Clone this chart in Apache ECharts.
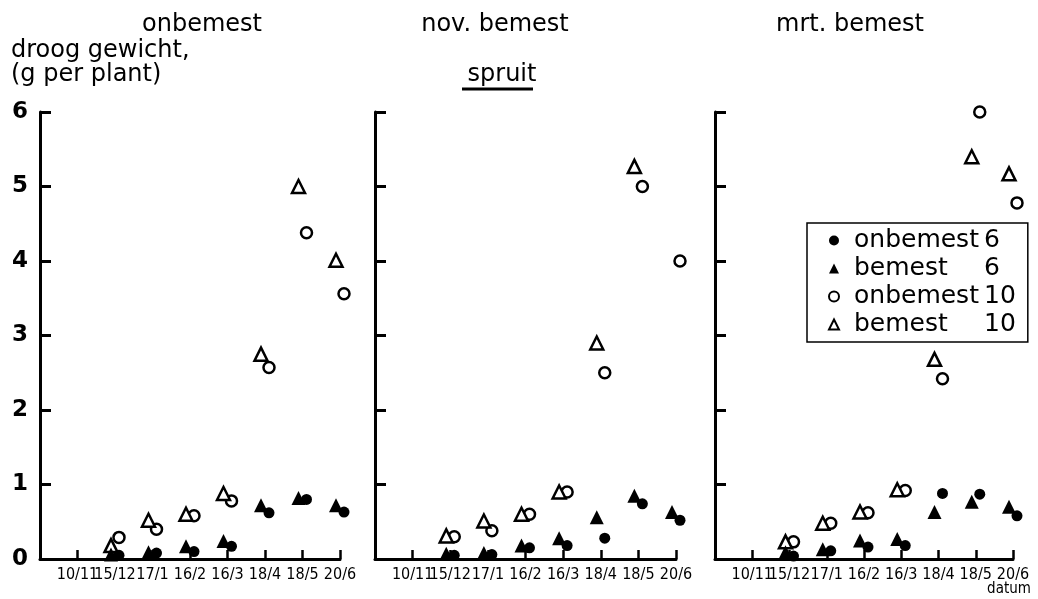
<!DOCTYPE html>
<html>
<head>
<meta charset="utf-8">
<script src="https://cdn.jsdelivr.net/npm/echarts@6/dist/echarts.min.js"></script>
<style>
  html, body { margin: 0; padding: 0; background: #fff; }
  #chart { width: 1038px; height: 599px; }
</style>
</head>
<body>
<div id="chart"></div>
<script>
// sampling dates (first one has no measurement)
const dates = ['10/11', '15/12', '17/1', '16/2', '16/3', '18/4', '18/5', '20/6'];
const yTicks = [0, 1, 2, 3, 4, 5, 6];
const panels = ['onbemest', 'nov. bemest', 'mrt. bemest'];

// droog gewicht spruit, g per plant
const onbemest6 = [
  [null, 0.05, 0.08, 0.10, 0.17, 0.62, 0.80, 0.63],
  [null, 0.05, 0.06, 0.15, 0.18, 0.28, 0.74, 0.52],
  [null, 0.04, 0.11, 0.16, 0.18, 0.88, 0.87, 0.58]
];
const bemest6 = [
  [null, 0.06, 0.09, 0.17, 0.24, 0.72, 0.82, 0.72],
  [null, 0.07, 0.08, 0.18, 0.28, 0.56, 0.85, 0.63],
  [null, 0.09, 0.13, 0.25, 0.27, 0.63, 0.77, 0.70]
];
const onbemest10 = [
  [null, 0.29, 0.40, 0.58, 0.78, 2.57, 4.38, 3.56],
  [null, 0.30, 0.38, 0.60, 0.90, 2.50, 5.00, 4.00],
  [null, 0.23, 0.48, 0.62, 0.92, 2.42, 6.00, 4.78]
];
const bemest10 = [
  [null, 0.18, 0.52, 0.60, 0.88, 2.75, 5.00, 4.01],
  [null, 0.31, 0.51, 0.60, 0.90, 2.90, 5.27, null],
  [null, 0.23, 0.48, 0.63, 0.93, 2.68, 5.40, 5.17]
];

const font = 'DejaVu Sans';
const condensed = 'DejaVu Sans Condensed';
const chart = echarts.init(document.getElementById('chart'));

const grids = [
  { left: 40, top: 112, width: 300, height: 447 },
  { left: 375, top: 112, width: 301, height: 447 },
  { left: 715, top: 112, width: 298, height: 447 }
];

// blank slot at x=0 so that 10/11 sits one step from the y-axis
const xCats = [''].concat(dates);

const xAxes = grids.map((g, i) => ({
  type: 'category',
  gridIndex: i,
  data: xCats,
  boundaryGap: false,
  axisLine: { lineStyle: { color: '#000', width: 3 } },
  axisTick: { inside: true, length: 9, lineStyle: { color: '#000', width: 2.5 }, interval: 0 },
  axisLabel: {
    interval: 0, color: '#000', fontFamily: condensed, fontSize: 16, margin: 8
  },
  splitLine: { show: false }
}));

const yAxes = grids.map((g, i) => ({
  type: 'value',
  gridIndex: i,
  min: yTicks[0],
  max: yTicks[yTicks.length - 1],
  interval: 1,
  axisLine: { show: true, lineStyle: { color: '#000', width: 3 } },
  axisTick: { show: true, inside: true, length: 11, lineStyle: { color: '#000', width: 3 } },
  axisLabel: {
    show: i === 0, color: '#000', fontFamily: font, fontSize: 23, fontWeight: 'bold', margin: 12
  },
  splitLine: { show: false }
}));

const styles = {
  'onbemest 6': { symbol: 'circle', symbolSize: 11, symbolOffset: [4, 0],
    itemStyle: { color: '#000', borderColor: '#000', borderWidth: 0, opacity: 1 } },
  'bemest 6': { symbol: 'triangle', symbolSize: 14, symbolOffset: [-4, 0],
    itemStyle: { color: '#000', borderColor: '#000', borderWidth: 0, opacity: 1 } },
  'onbemest 10': { symbol: 'circle', symbolSize: 11, symbolOffset: [4, 0],
    itemStyle: { color: '#fff', borderColor: '#000', borderWidth: 2.5, opacity: 1 } },
  'bemest 10': { symbol: 'triangle', symbolSize: 13, symbolOffset: [-4, 0],
    itemStyle: { color: '#fff', borderColor: '#000', borderWidth: 2.5, opacity: 1 } }
};

const toPoints = vals => vals.map((v, j) => v == null ? null : [dates[j], v]).filter(p => p);

const series = [];
for (let i = 0; i < 3; i++) {
  // open markers first so the filled ones stay on top
  [['onbemest 10', onbemest10], ['bemest 10', bemest10], ['onbemest 6', onbemest6], ['bemest 6', bemest6]]
    .forEach(([name, arr]) => {
      series.push(Object.assign({
        name: name,
        type: 'scatter',
        xAxisIndex: i,
        yAxisIndex: i,
        data: toPoints(arr[i]),
        emphasis: { disabled: true }
      }, styles[name]));
    });
}

const titleText = { fontFamily: font, fontSize: 24, fontWeight: 'normal', color: '#000' };

const options = {
  animation: false,
  backgroundColor: '#fff',
  title: [
    { text: panels[0], left: 197, top: 8, textAlign: 'center', textStyle: titleText },
    { text: panels[1], left: 490, top: 8, textAlign: 'center', textStyle: titleText },
    { text: panels[2], left: 845, top: 8, textAlign: 'center', textStyle: titleText },
    { text: 'droog gewicht,\n(g per plant)', left: 6, top: 34,
      textStyle: { fontFamily: font, fontSize: 24, fontWeight: 'normal', color: '#000', lineHeight: 24 } },
    { text: 'spruit', left: 497, top: 58, textAlign: 'center', textStyle: titleText }
  ],
  graphic: [
    { type: 'line', shape: { x1: 462, y1: 89, x2: 533, y2: 89 }, style: { stroke: '#000', lineWidth: 3 } },
    { type: 'text', x: 1009, y: 582,
      style: { text: 'datum', fill: '#000', font: '15px "DejaVu Sans Condensed"', textAlign: 'center' } }
  ],
  legend: {
    data: ['onbemest 6', 'bemest 6', 'onbemest 10', 'bemest 10'],
    orient: 'vertical',
    left: 807,
    top: 223,
    backgroundColor: '#fff',
    borderColor: '#000',
    borderWidth: 1.5,
    borderRadius: 0,
    padding: [5, 12, 5, 21],
    itemGap: 3,
    itemWidth: 10,
    itemHeight: 10,
    selectedMode: false,
    formatter: name => {
      const k = name.lastIndexOf(' ');
      return '{a|' + name.slice(0, k) + '}{b|' + name.slice(k + 1) + '}';
    },
    textStyle: {
      color: '#000',
      fontFamily: font,
      fontSize: 25,
      rich: {
        a: { fontFamily: font, fontSize: 25, color: '#000', width: 130, padding: [0, 0, 0, 10] },
        b: { fontFamily: font, fontSize: 25, color: '#000' }
      }
    }
  },
  grid: grids,
  xAxis: xAxes,
  yAxis: yAxes,
  series: series
};

chart.setOption(options);
</script>
</body>
</html>
